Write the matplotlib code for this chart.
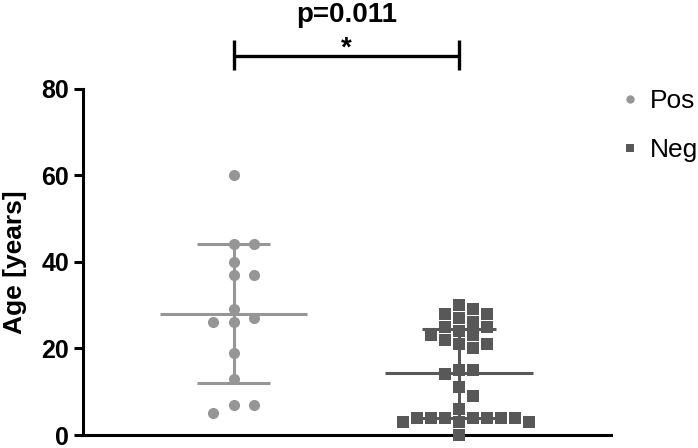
import numpy as np
import matplotlib
matplotlib.use("Agg")
import matplotlib.pyplot as plt
from matplotlib.lines import Line2D

plt.rcParams['font.family'] = ['Liberation Sans', 'DejaVu Sans']

# data (ages in years)
groups = ["Pos", "Neg"]
pos_ages = [60, 44, 44, 40, 37, 37, 29, 27, 26, 26, 19, 13, 7, 7, 5]
neg_ages = [30, 29, 28, 28, 27, 26, 25, 25, 24, 23, 23, 22, 21, 21, 20,
            15, 15, 14, 11, 9, 6, 4, 4, 4, 4, 4, 4, 4, 3, 3, 3, 0]
means = [28.0, 14.2]
sds = [16.0, 10.3]
p_text = "p=0.011"
star_text = "*"

colors = ["#969696", "#585858"]
markers = ["o", "s"]
steps = [0.093, 0.062]          # horizontal spacing of the swarm columns


def swarm_offsets(values, step, gap=2.9):
    # simple greedy beeswarm: nearest free column, right side first
    order = [0] + [s * i for i in range(1, 20) for s in (1, -1)]
    placed = []
    cols = []
    for v in values:
        for c in order:
            if all(abs(v - pv) >= gap for pc, pv in placed if pc == c):
                break
        placed.append((c, v))
        cols.append(c)
    return np.array(cols) * step


fig = plt.figure(figsize=(6.98, 4.48), dpi=100)
ax = fig.add_axes([83 / 698, 13 / 448, 528 / 698, 346.5 / 448])

handles = []
for i, ages in enumerate([pos_ages, neg_ages]):
    xc = i + 1
    m, sd = means[i], sds[i]
    # mean and SD
    ax.hlines(m, xc - 0.327, xc + 0.327, color=colors[i], lw=2.2, zorder=3)
    ax.vlines(xc, m - sd, m + sd, color=colors[i], lw=2.2, zorder=3)
    ax.hlines([m - sd, m + sd], xc - 0.164, xc + 0.164, color=colors[i], lw=2.2, zorder=3)
    xs = xc + swarm_offsets(ages, steps[i])
    ax.plot(xs, ages, ls='none', marker=markers[i], ms=8, mew=0,
            color=colors[i], zorder=4, clip_on=False)
    handles.append(Line2D([], [], ls='none', marker=markers[i], ms=6, mew=0,
                          color=colors[i]))

ax.set_xlim(0.3326, 2.674)
ax.set_ylim(0, 80)
ax.set_yticks([0, 20, 40, 60, 80])
ax.set_xticks([])
for s in ['top', 'right']:
    ax.spines[s].set_visible(False)
for s in ['left', 'bottom']:
    ax.spines[s].set_linewidth(2.2)
ax.tick_params(axis='y', length=6.5, width=2.2, pad=3.6, labelsize=18)
for lab in ax.get_yticklabels():
    lab.set_fontweight('bold')
ax.set_ylabel("Age [years]", fontsize=19, fontweight='bold', labelpad=10)

# significance bracket
ax.plot([1, 2], [87.6, 87.6], color='black', lw=2.4, clip_on=False,
        solid_capstyle='butt')
ax.vlines([1, 2], 84.2, 91.3, color='black', lw=2.4, clip_on=False)
ax.text(1.5, 95.3, p_text, ha='center', va='baseline', fontsize=20,
        fontweight='bold')
ax.text(1.5, 87.7, star_text, ha='center', va='baseline', fontsize=20,
        fontweight='bold')

ax.legend(handles, groups, loc='upper left', bbox_to_anchor=(620.5 / 698, 1 - 89 / 448),
          bbox_transform=fig.transFigure, frameon=False, fontsize=19,
          handlelength=0.7, handletextpad=0.4, labelspacing=0.95,
          borderpad=0, borderaxespad=0)

fig.savefig("out.png", dpi=100)
